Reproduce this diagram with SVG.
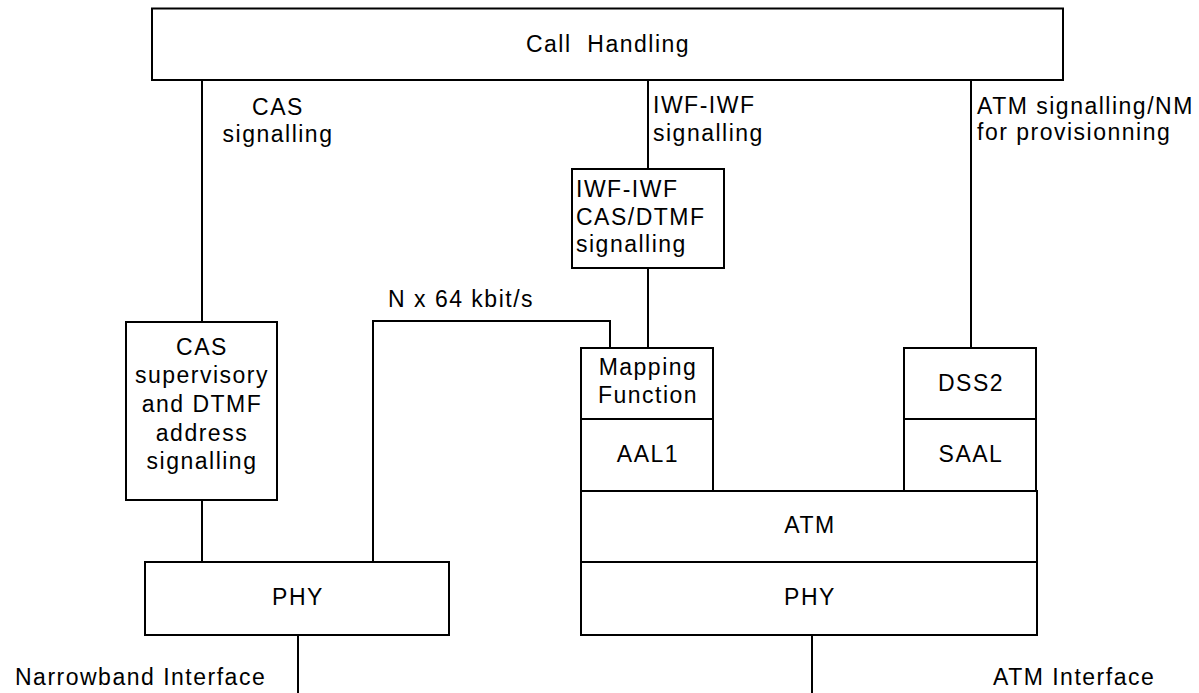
<svg xmlns="http://www.w3.org/2000/svg" width="1199" height="693" viewBox="0 0 1199 693">
<style>
.box{fill:#fff;stroke:#000;stroke-width:2}
.ln{fill:none;stroke:#000;stroke-width:2}
text{font-family:"Liberation Sans",Arial,sans-serif;font-size:23px;letter-spacing:1.5px;fill:#000}
.c{text-anchor:middle}
</style>
<rect width="1199" height="693" fill="#fff"/>
<g id="connectors">
<path class="ln" d="M202,80V322"/>
<path class="ln" d="M202,500V562"/>
<path class="ln" d="M298,635V693"/>
<path class="ln" d="M373,562V321H610V348"/>
<path class="ln" d="M648,80V169"/>
<path class="ln" d="M648,268V348"/>
<path class="ln" d="M971,80V348"/>
<path class="ln" d="M812,635V693"/>
</g>
<g id="call-handling">
<rect class="box" x="152" y="8.5" width="911" height="71.5"/>
<text class="c" x="608" y="52" xml:space="preserve">Call  Handling</text>
</g>
<g id="cas-signalling-label">
<text class="c" x="278" y="115">CAS</text>
<text class="c" x="278" y="142">signalling</text>
</g>
<g id="iwf-signalling-label">
<text x="653" y="113">IWF-IWF</text>
<text x="653" y="141">signalling</text>
</g>
<g id="atm-signalling-label">
<text x="977" y="114">ATM signalling/NM</text>
<text x="977" y="140">for provisionning</text>
</g>
<g id="cas-box">
<rect class="box" x="126" y="322" width="151" height="178"/>
<text class="c" x="202" y="355">CAS</text>
<text class="c" x="202" y="383">supervisory</text>
<text class="c" x="202" y="412">and DTMF</text>
<text class="c" x="202" y="441">address</text>
<text class="c" x="202" y="469">signalling</text>
</g>
<g id="iwf-box">
<rect class="box" x="572" y="169" width="152" height="99"/>
<text x="576" y="197">IWF-IWF</text>
<text x="576" y="224.5">CAS/DTMF</text>
<text x="576" y="252">signalling</text>
</g>
<g id="nx64-label">
<text x="388" y="307">N x 64 kbit/s</text>
</g>
<g id="mapping">
<rect class="box" x="581" y="348" width="132" height="71"/>
<text class="c" x="648" y="375">Mapping</text>
<text class="c" x="648" y="403">Function</text>
</g>
<g id="aal1">
<rect class="box" x="581" y="419" width="132" height="72"/>
<text class="c" x="648" y="462">AAL1</text>
</g>
<g id="dss2">
<rect class="box" x="904" y="348" width="132" height="71"/>
<text class="c" x="971" y="391">DSS2</text>
</g>
<g id="saal">
<rect class="box" x="904" y="419" width="132" height="72"/>
<text class="c" x="971" y="462">SAAL</text>
</g>
<g id="atm">
<rect class="box" x="581" y="491" width="456" height="71"/>
<text class="c" x="810" y="533">ATM</text>
</g>
<g id="phy-atm">
<rect class="box" x="581" y="562" width="456" height="73"/>
<text class="c" x="810" y="605">PHY</text>
</g>
<g id="phy-nb">
<rect class="box" x="145" y="562" width="304" height="73"/>
<text class="c" x="298" y="605">PHY</text>
</g>
<g id="interface-labels">
<text x="15" y="685">Narrowband Interface</text>
<text x="993" y="685">ATM Interface</text>
</g>
</svg>
